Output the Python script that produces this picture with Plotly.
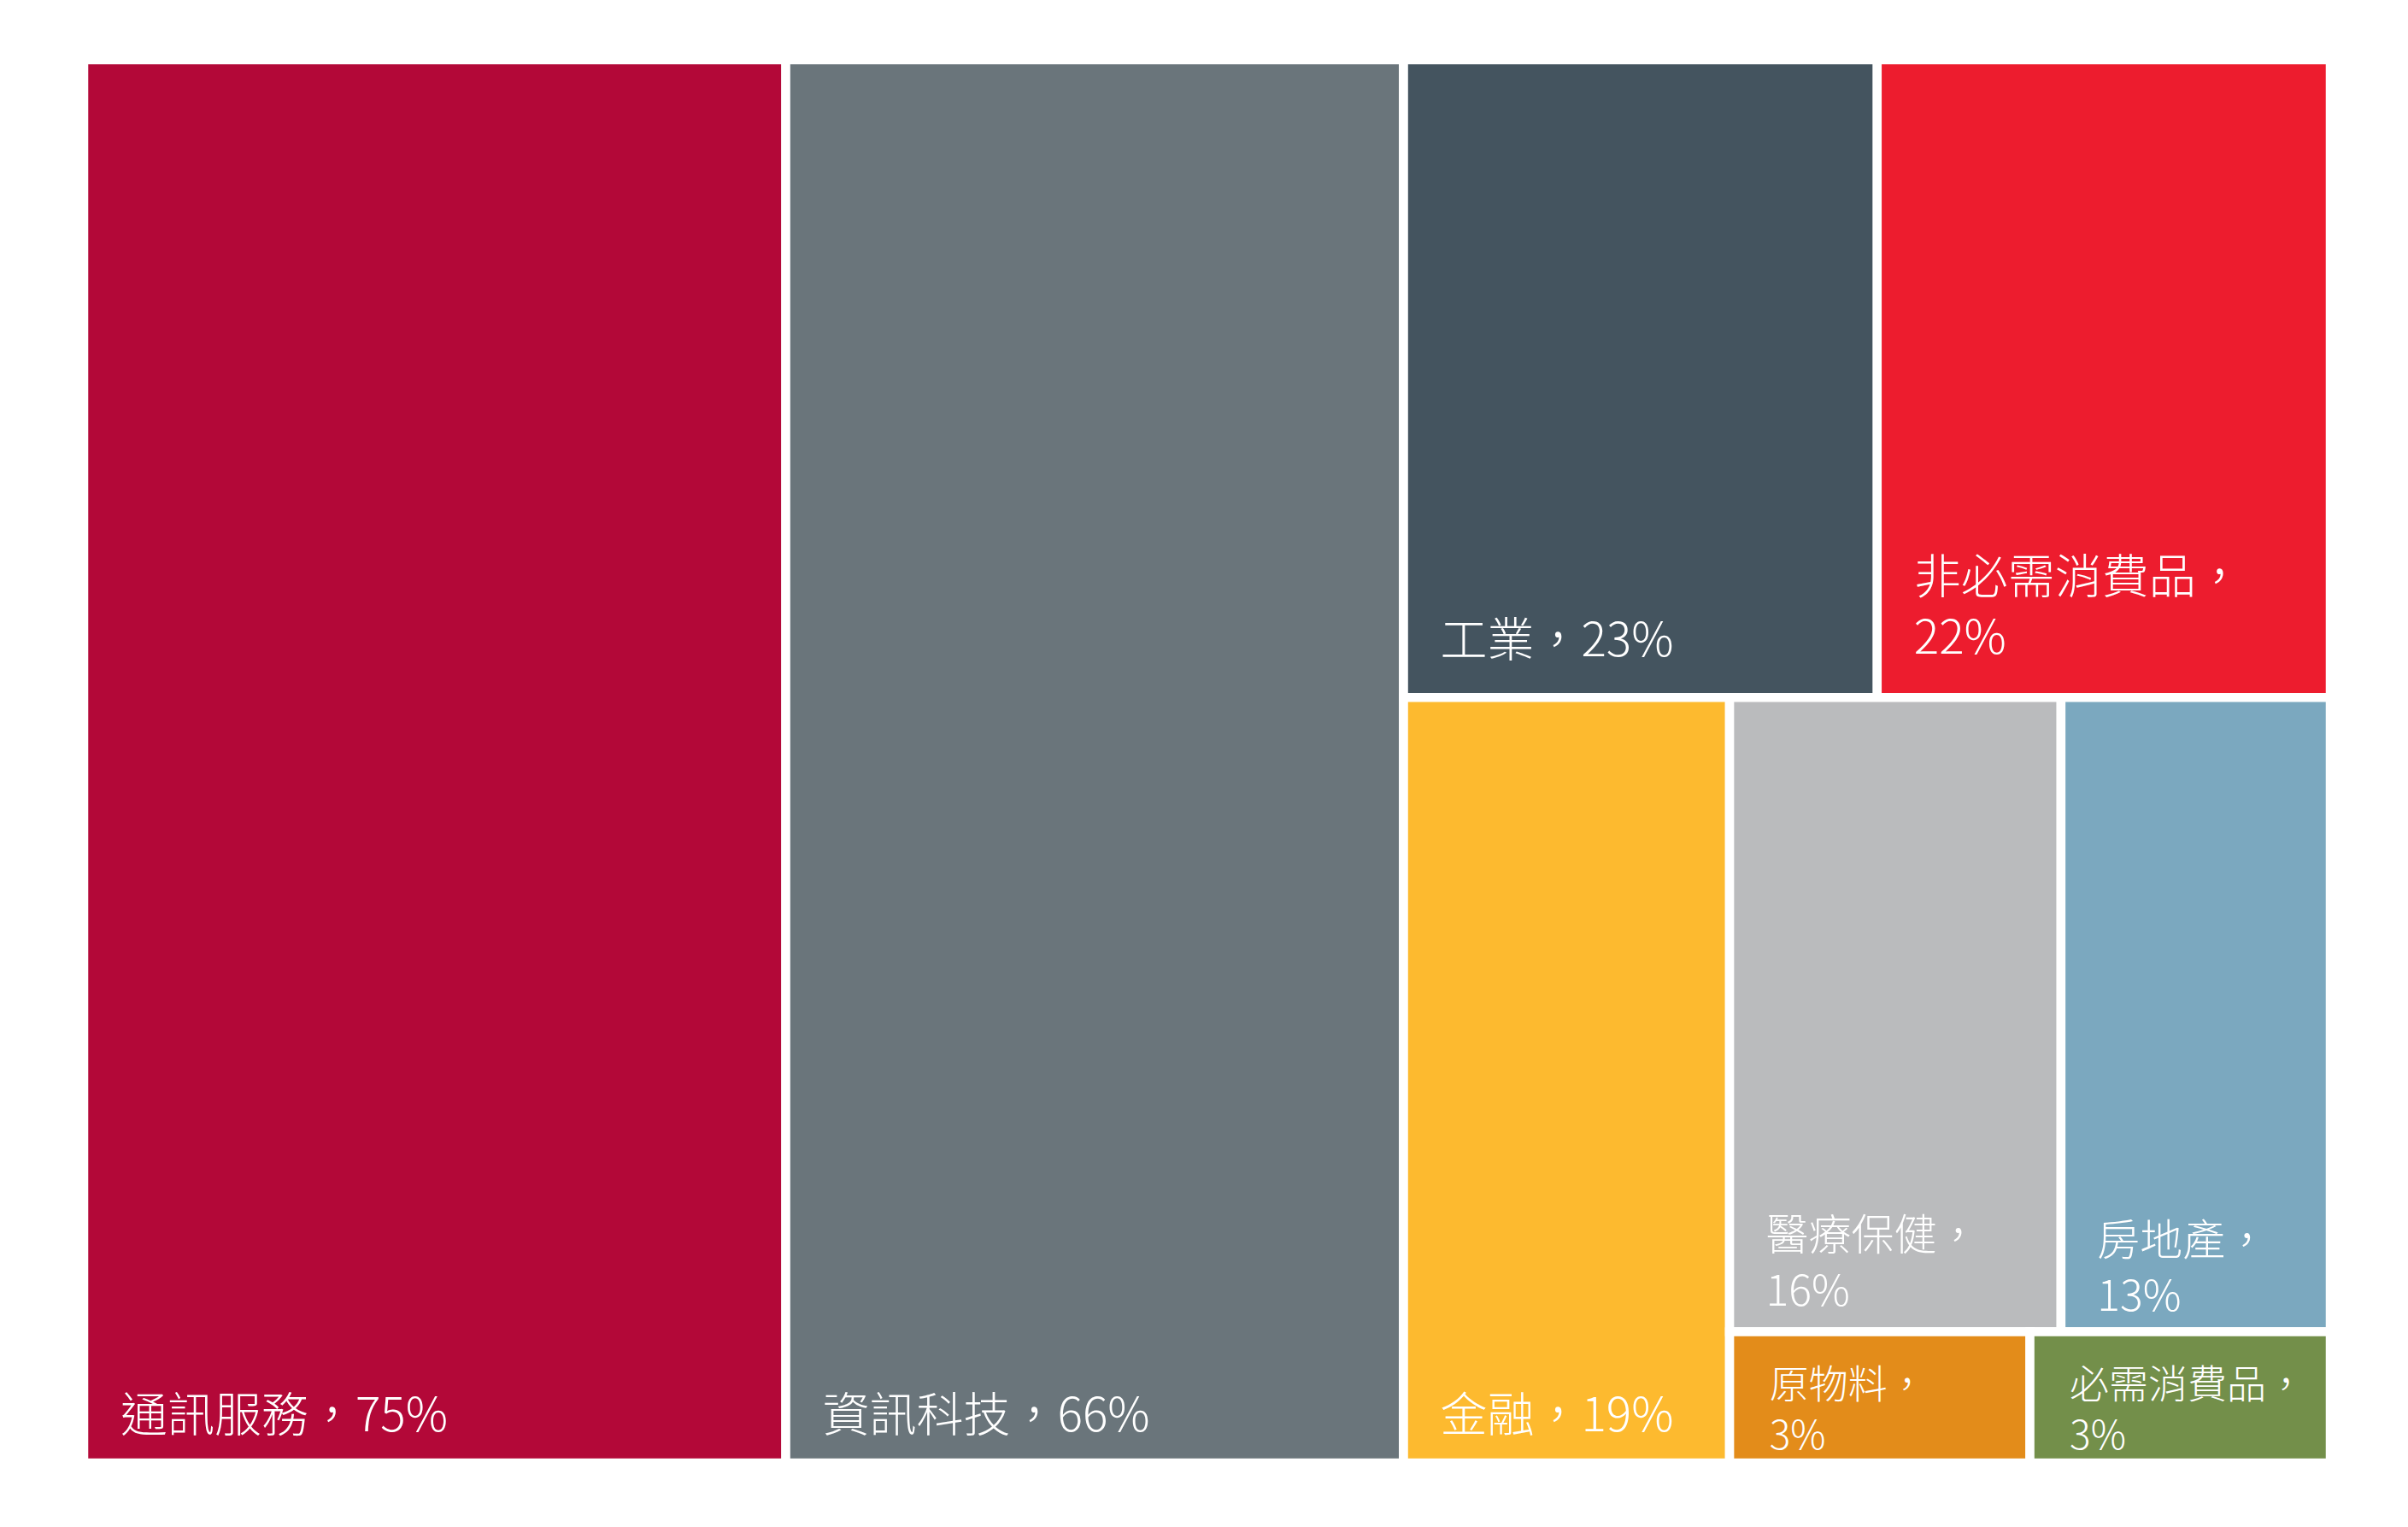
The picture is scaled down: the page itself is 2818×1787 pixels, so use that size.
import plotly.graph_objects as go

# ---- data ----
sectors = ["通訊服務", "資訊科技", "工業", "非必需消費品", "金融",
           "醫療保健", "房地產", "原物料", "必需消費品"]
values = [75, 66, 23, 22, 19, 16, 13, 3, 3]
# layout grouping (to reproduce the reference tiling)
sector_parent = ["", "", "g_top", "g_top", "g_bot", "g4", "g4", "g5", "g5"]
group_ids = ["g1", "g_top", "g_bot", "g3", "g4", "g5"]
group_parent = ["", "g1", "g1", "g_bot", "g3", "g3"]
wrap_label = [False, False, False, True, False, True, True, True, True]

# ---- style ----
colors = ["#B30838", "#6A757B", "#44545F", "#ED1C2E", "#FDBA2F",
          "#BABBBD", "#7BA8BF", "#E38C1A", "#738F4A"]
font_sizes = [55, 55, 55, 55, 55, 50, 50, 46, 46]
spacer_sizes = [118, 118, 155, 167, 118, 95, 74, 0, 0]
NB = "\u00a0"
HAIR = "\u200a"
indents = [NB * 3 + HAIR] * 5 + [NB * 3 + HAIR * 2] * 2 + [NB * 4 + HAIR] * 2


def label(s, v, w, sp, ind):
    t = f"{ind}{s}，" + (f"<br>{ind}" if w else "") + f"{v}%"
    if sp:
        t += f"<span style='font-size:{sp}px'>{NB}</span>"
    return t


texts = [label(s, v, w, sp, ind)
         for s, v, w, sp, ind in zip(sectors, values, wrap_label, spacer_sizes, indents)]

ids = sectors + group_ids
parents = sector_parent + group_parent
vals = values + [0] * len(group_ids)
node_text = texts + [""] * len(group_ids)
node_colors = colors + ["rgba(255,255,255,0)"] * len(group_ids)
node_sizes = font_sizes + [10] * len(group_ids)

fig = go.Figure(go.Treemap(
    ids=ids,
    labels=ids,
    parents=parents,
    values=vals,
    text=node_text,
    textinfo="text",
    textposition="bottom left",
    sort=False,
    branchvalues="remainder",
    tiling=dict(packing="slice-dice", pad=0),
    pathbar=dict(visible=False),
    marker=dict(colors=node_colors, line=dict(color="white", width=10.5),
                pad=dict(t=0, l=0, r=0, b=0), depthfade=False),
    textfont=dict(color="white", size=node_sizes,
                  family="Noto Sans CJK TC, sans-serif", weight=300),
    hoverinfo="skip",
))

fig.update_layout(
    width=2818, height=1787,
    margin=dict(l=90, r=99, t=62, b=83),
    paper_bgcolor="white",
    plot_bgcolor="white",
    showlegend=False,
)

fig.write_html("out.html")
